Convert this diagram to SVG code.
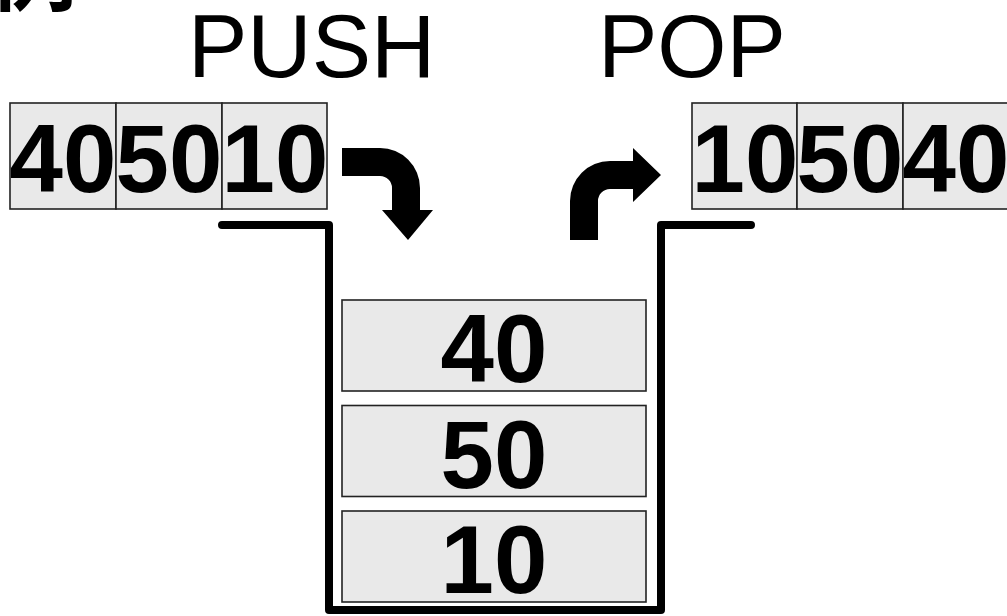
<svg xmlns="http://www.w3.org/2000/svg" width="1007" height="616" viewBox="0 0 1007 616">
<style>
.cell{fill:#e9e9e9;stroke:#222;stroke-width:1.6}
.num{font-family:"Liberation Sans",Arial,sans-serif;font-weight:bold;font-size:96px;fill:#000;text-anchor:middle}
.lbl{font-family:"Liberation Sans",Arial,sans-serif;font-size:89px;fill:#000}
.rim{fill:none;stroke:#000;stroke-width:8;stroke-linecap:round;stroke-linejoin:round}
</style>
<rect width="1007" height="616" fill="#fff"/>
<text x="-11" y="3" style="font-family:'Noto Sans CJK JP','Noto Sans CJK SC',sans-serif;font-weight:bold;font-size:88px">例</text>
<g id="label-push"><text class="lbl" x="188" y="77">PUSH</text></g>
<g id="label-pop"><text class="lbl" x="598" y="77">POP</text></g>
<g id="input">
<rect class="cell" x="10" y="103" width="106" height="106"/>
<rect class="cell" x="116" y="103" width="106" height="106"/>
<rect class="cell" x="222" y="103" width="105" height="106"/>
<text class="num" x="63" y="192">40</text>
<text class="num" x="169" y="192">50</text>
<text class="num" x="275" y="192">10</text>
</g>
<g id="output">
<rect class="cell" x="692" y="103" width="105" height="106"/>
<rect class="cell" x="797" y="103" width="106" height="106"/>
<rect class="cell" x="903" y="103" width="106" height="106"/>
<text class="num" x="745" y="192">10</text>
<text class="num" x="850" y="192">50</text>
<text class="num" x="956" y="192">40</text>
</g>
<g id="stack">
<path class="rim" d="M222,225 H329 V610 H661 V225 H751"/>
<rect class="cell" x="342" y="300" width="304" height="91"/>
<rect class="cell" x="342" y="405.5" width="304" height="91"/>
<rect class="cell" x="342" y="511" width="304" height="91"/>
<text class="num" x="494" y="382">40</text>
<text class="num" x="494" y="488">50</text>
<text class="num" x="494" y="593">10</text>
</g>
<g id="connectors">
<path d="M342,148 H380 A40,40 0 0 1 420,188 V210 H433 L408,240 L382,210 H392 V188 A12,12 0 0 0 380,176 H342 Z" fill="#000"/>
<path d="M570,240 V201 A40,40 0 0 1 610,161 H633 V148 L661,175 L633,202 V189 H610 A12,12 0 0 0 598,201 V240 Z" fill="#000"/>
</g>
</svg>
